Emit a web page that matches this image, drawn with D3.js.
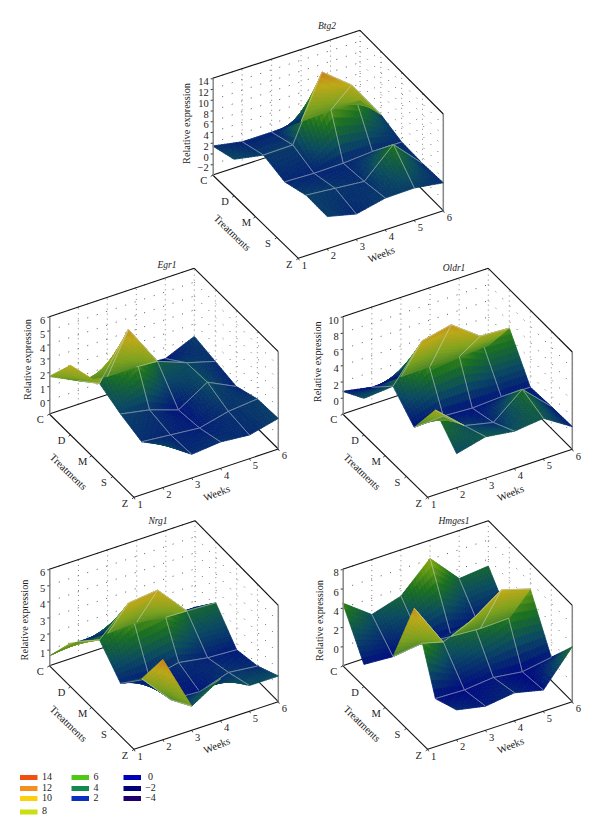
<!DOCTYPE html>
<html>
<head>
<meta charset="utf-8">
<script src="https://cdn.jsdelivr.net/npm/d3@7"></script>
<style>
  body { margin: 0; background: #fff; }
  text { font-family: "Liberation Serif", serif; fill: #222; }
</style>
</head>
<body>
<script>
var weeks = [1, 2, 3, 4, 5, 6];
var treatments = ["C", "D", "M", "S", "Z"];

// rows = treatments, columns = weeks, week 1 has no M/S/Z reading
var btg2Values = [
  [1.4, 0.4, 0.4, 0.6, 0.9, 0.9],
  [2.8, 1.8, 1.9, 13.7, 9.5, 2.2],
  [null, 0.7, 0.5, 0.6, 1.0, 1.0],
  [null, 2.1, 1.6, 1.1, 6.2, 0.9],
  [null, 2.0, 0.7, 1.9, 2.0, 1.2],
];
var egr1Values = [
  [1.7, 0.7, 0.3, 0.3, 0.2, 1.1],
  [4.0, 2.0, 5.2, 2.2, 1.4, 0.8],
  [null, 1.3, 0.9, 0.2, 1.5, 0.5],
  [null, 0.8, 0.6, 0.4, 0.9, 1.1],
  [null, 2.1, 0.7, 0.9, 0.7, 1.2],
];
var oldr1Values = [
  [0.8, 0.1, 0.2, 0.3, 0.3, 0.5],
  [2.5, 2.8, 7.2, 8.0, 5.4, 5.2],
  [null, 0.3, 0.5, 0.3, 0.5, 0.5],
  [null, 5.0, 1.9, 1.1, 4.0, 0.7],
  [null, 2.2, 3.1, 2.6, 3.0, 0.8],
];
var nrg1Values = [
  [0.6, 0.9, 0.8, 0.9, 0.6, 0.6],
  [2.7, 2.3, 4.0, 4.2, 2.3, 2.2],
  [null, 0.9, 0.6, 1.0, 0.7, 0.6],
  [null, 2.5, 0.6, 0.5, 1.1, 0.9],
  [null, 5.0, 1.5, 2.6, 1.6, 1.6],
];
var hmges1Values = [
  [4.5, 2.3, 3.2, 6.1, 3.0, 3.3],
  [0.3, 0.1, 0.5, 0.2, 0.0, 0.1],
  [null, 7.3, 2.8, 4.1, 6.2, 5.3],
  [null, 0.1, 0.0, 0.3, -0.1, 0.4],
  [null, 1.1, 0.5, 0.9, 0.2, 3.7],
];

var btg2Ticks = [-2, 0, 2, 4, 6, 8, 10, 12, 14];
var egr1Ticks = [0, 1, 2, 3, 4, 5, 6];
var oldr1Ticks = [0, 2, 4, 6, 8, 10];
var nrg1Ticks = [1, 2, 3, 4, 5, 6];
var hmges1Ticks = [0, 2, 4, 6, 8];

var legendValues = [14, 12, 10, 8, 6, 4, 2, 0, -2, -4];
var legendColors = ["#f0500f", "#f59020", "#fcd010", "#c8e010", "#50c81a", "#108a50", "#0a30c0", "#0000b8", "#00007a", "#20006a"];

// surface colour ramp, every panel stretches it over its own range
var rampStops = [0, 0.25, 0.45, 0.65, 0.85, 1];
var rampColors = ["#000a80", "#0a4a60", "#1a7020", "#70a010", "#c0a808", "#d8660c"];

var panels = [
  { name: "Btg2", values: btg2Values, ticks: btg2Ticks, zMin: -4, zMax: 14, colorMin: -1, colorMax: 14.5,
    left: [212.7, 175], front: [298.3, 258.3], right: [443.3, 210.7], back: [360, 127], height: 96.7,
    title: [327, 29], zTitle: [188, 123.5] },
  { name: "Egr1", values: egr1Values, ticks: egr1Ticks, zMin: -1, zMax: 6, colorMin: 0, colorMax: 6,
    left: [49.3, 414], front: [134, 497.3], right: [278.3, 449], back: [194.3, 365.6], height: 97.3,
    title: [167, 268], zTitle: [29, 359.5] },
  { name: "Oldr1", values: oldr1Values, ticks: oldr1Ticks, zMin: -2, zMax: 10, colorMin: 0, colorMax: 9.4,
    left: [342.7, 414], front: [427.7, 497.3], right: [572.3, 449.3], back: [488.3, 365.6], height: 97.3,
    title: [454, 271], zTitle: [319, 361.7] },
  { name: "Nrg1", values: nrg1Values, ticks: nrg1Ticks, zMin: 0, zMax: 6, colorMin: 0.3, colorMax: 5.3,
    left: [49.3, 665.7], front: [134, 749.3], right: [278.3, 701.7], back: [195, 617.1], height: 96.4,
    title: [158, 524], zTitle: [25.7, 620] },
  { name: "Hmges1", values: hmges1Values, ticks: hmges1Ticks, zMin: -2, zMax: 8, colorMin: 0, colorMax: 8.4,
    left: [342.7, 665.7], front: [427.7, 749.3], right: [572.3, 701.7], back: [488.3, 617.1], height: 96.4,
    title: [454, 524], zTitle: [320.7, 620.5] },
];

var svg = d3
  .select("body")
  .append("svg")
  .attr("width", 600)
  .attr("height", 838);

var ramp = d3.scaleLinear().domain(rampStops).range(rampColors).clamp(true);
var subSteps = 10;

panels.forEach(drawPanel);
drawLegend();

function drawPanel(panel) {
  var g = svg.append("g").attr("class", "panel");

  var weekScale = d3.scaleLinear().domain([d3.min(weeks), d3.max(weeks)]).range([0, 1]);
  var treatmentScale = d3.scaleLinear().domain([0, treatments.length - 1]).range([0, 1]);
  var zScale = d3
    .scaleLinear()
    .domain([panel.zMin, panel.zMax])
    .range([panel.left[1], panel.left[1] - panel.height]);
  var colorNorm = d3.scaleLinear().domain([panel.colorMin, panel.colorMax]).range([0, 1]);

  // floor point for a (fractional) week and treatment index
  function floor(week, treatment) {
    var u = weekScale(week),
      v = treatmentScale(treatment);
    var x0 = panel.left[0] + (panel.front[0] - panel.left[0]) * v,
      y0 = panel.left[1] + (panel.front[1] - panel.left[1]) * v,
      x1 = panel.back[0] + (panel.right[0] - panel.back[0]) * v,
      y1 = panel.back[1] + (panel.right[1] - panel.back[1]) * v;
    return [x0 + (x1 - x0) * u, y0 + (y1 - y0) * u];
  }

  function project(week, treatment, value) {
    var p = floor(week, treatment);
    return [p[0], p[1] + zScale(value) - zScale(panel.zMin)];
  }

  var weekFirst = d3.min(weeks),
    weekLast = d3.max(weeks),
    lastT = treatments.length - 1;

  drawWalls();
  drawSurface();
  drawAxes();

  function addLine(a, b, stroke, width, dash) {
    g.append("line")
      .attr("x1", a[0])
      .attr("y1", a[1])
      .attr("x2", b[0])
      .attr("y2", b[1])
      .attr("stroke", stroke)
      .attr("stroke-width", width)
      .attr("stroke-dasharray", dash || null);
  }

  function drawWalls() {
    // dotted grid on the two back walls
    panel.ticks.forEach(function (t) {
      addLine(project(weekFirst, 0, t), project(weekLast, 0, t), "#555", 1, "1 9");
      addLine(project(weekLast, 0, t), project(weekLast, lastT, t), "#555", 1, "1 9");
    });
    weeks.slice(1).forEach(function (w) {
      addLine(project(w, 0, panel.zMin), project(w, 0, panel.zMax), "#777", 0.9, "1 4");
    });
    treatments.slice(1).forEach(function (d, i) {
      addLine(project(weekLast, i + 1, panel.zMin), project(weekLast, i + 1, panel.zMax), "#777", 0.9, "1 4");
    });

    // floor outline and top edges
    addLine(panel.left, panel.front, "#111", 1.1);
    addLine(panel.front, panel.right, "#111", 1.1);
    addLine(panel.left, panel.back, "#111", 1.1);
    addLine(panel.back, panel.right, "#111", 1.1);
    addLine(project(weekFirst, 0, panel.zMax), project(weekLast, 0, panel.zMax), "#111", 1.1);
    addLine(project(weekLast, 0, panel.zMax), project(weekLast, lastT, panel.zMax), "#111", 1.1);
    addLine(panel.right, project(weekLast, lastT, panel.zMax), "#888", 1.5);
  }

  function value(weekIndex, t) {
    return panel.values[t][weekIndex];
  }

  function hasCell(j, k) {
    if (j < 0 || k < 0 || j >= weeks.length - 1 || k >= lastT) return false;
    return (
      value(j, k) !== null &&
      value(j, k + 1) !== null &&
      value(j + 1, k) !== null &&
      value(j + 1, k + 1) !== null
    );
  }

  // true when the sheet folds over and we look at its underside
  function isFlipped(j, k) {
    var a = project(weeks[j], k, value(j, k)),
      b = project(weeks[j], k + 1, value(j, k + 1)),
      c = project(weeks[j + 1], k + 1, value(j + 1, k + 1)),
      d = project(weeks[j + 1], k, value(j + 1, k));
    return d3.polygonArea([a, b, c, d]) < 0;
  }

  function drawSurface() {
    var cells = [];
    for (var j = weeks.length - 2; j >= 0; j--) {
      for (var k = 0; k < lastT; k++) {
        if (hasCell(j, k)) cells.push({ j: j, k: k, flipped: isFlipped(j, k) });
      }
    }
    // undersides go on top, that is how the original stacks them
    cells.filter((c) => !c.flipped).forEach(drawCell);
    cells.filter((c) => c.flipped).forEach(drawCell);
  }

  function drawCell(cell) {
    var j = cell.j,
      k = cell.k;
    var v00 = value(j, k),
      v01 = value(j, k + 1),
      v10 = value(j + 1, k),
      v11 = value(j + 1, k + 1);

    function height(s, t) {
      return (
        v00 * (1 - s) * (1 - t) + v10 * s * (1 - t) + v01 * (1 - s) * t + v11 * s * t
      );
    }
    function point(s, t) {
      return project(weeks[j] + s, k + t, height(s, t));
    }

    var cellGroup = g.append("g");
    var quads = [];
    for (var a = 0; a < subSteps; a++) {
      for (var b = 0; b < subSteps; b++) {
        quads.push([a / subSteps, b / subSteps]);
      }
    }
    var step = 1 / subSteps;

    cellGroup
      .selectAll("path")
      .data(quads)
      .enter()
      .append("path")
      .attr("d", function (q) {
        return (
          "M" + point(q[0], q[1]) +
          "L" + point(q[0] + step, q[1]) +
          "L" + point(q[0] + step, q[1] + step) +
          "L" + point(q[0], q[1] + step) + "Z"
        );
      })
      .each(function (q) {
        var t = colorNorm(height(q[0] + step / 2, q[1] + step / 2));
        var c = ramp(t);
        // underside runs lighter, low parts go olive rather than navy
        if (cell.flipped) c = d3.interpolateRgb(ramp(t * 0.5 + 0.5), "#b4ac60")(0.2);
        d3.select(this).attr("fill", c).attr("stroke", c).attr("stroke-width", 0.8);
      });

    // mesh lines only on edges shared with a neighbour
    var edges = [];
    if (hasCell(j - 1, k)) edges.push([[0, 0], [0, 1]]);
    if (hasCell(j + 1, k)) edges.push([[1, 0], [1, 1]]);
    if (hasCell(j, k - 1)) edges.push([[0, 0], [1, 0]]);
    if (hasCell(j, k + 1)) edges.push([[0, 1], [1, 1]]);
    edges.forEach(function (e) {
      var p = point(e[0][0], e[0][1]),
        q = point(e[1][0], e[1][1]);
      cellGroup
        .append("line")
        .attr("x1", p[0])
        .attr("y1", p[1])
        .attr("x2", q[0])
        .attr("y2", q[1])
        .attr("stroke", "#d0d8d0")
        .attr("stroke-width", 0.7)
        .attr("stroke-opacity", 0.7);
    });
  }

  function drawAxes() {
    var zAxis = d3
      .axisLeft(zScale)
      .tickValues(panel.ticks)
      .tickSizeInner(2)
      .tickSizeOuter(0)
      .tickPadding(2)
      .tickFormat((d) => (d < 0 ? "\u2212" + Math.abs(d) : d));

    var axis = g
      .append("g")
      .attr("class", "axis")
      .attr("transform", "translate(" + panel.left[0] + ",0)")
      .call(zAxis);
    axis.select(".domain").attr("stroke", "#888").attr("stroke-width", 1.5);
    axis.selectAll(".tick line").attr("stroke", "#333");
    axis
      .selectAll(".tick text")
      .attr("dy", "0.62em")
      .style("font-family", '"Liberation Serif", serif')
      .style("font-size", "10.5px")
      .style("fill", "#222");

    g.append("text")
      .attr("transform", "translate(" + panel.zTitle[0] + "," + panel.zTitle[1] + ") rotate(-90)")
      .attr("text-anchor", "middle")
      .attr("dominant-baseline", "middle")
      .style("font-size", "10.3px")
      .text("Relative expression");

    treatments.forEach(function (d, i) {
      var p = floor(weekFirst, i);
      addLine(p, [p[0] - 2, p[1] + 1.5], "#111", 0.8);
      g.append("text")
        .attr("x", p[0] - 9)
        .attr("y", p[1] + 7)
        .attr("text-anchor", "middle")
        .attr("dominant-baseline", "middle")
        .style("font-size", "10.5px")
        .text(d);
    });

    weeks.forEach(function (d) {
      var p = floor(d, lastT);
      addLine(p, [p[0] + 1, p[1] + 2], "#111", 0.8);
      g.append("text")
        .attr("x", p[0] + 6)
        .attr("y", p[1] + 8)
        .attr("text-anchor", "middle")
        .attr("dominant-baseline", "middle")
        .style("font-size", "10.5px")
        .text(d);
    });

    var treatMid = floor(weekFirst, lastT / 2);
    g.append("text")
      .attr("transform", "translate(" + (treatMid[0] - 24) + "," + (treatMid[1] + 17) + ") rotate(44)")
      .attr("text-anchor", "middle")
      .attr("dominant-baseline", "middle")
      .style("font-size", "10.5px")
      .text("Treatments");

    var weekMid = floor((weekFirst + weekLast) / 2, lastT);
    g.append("text")
      .attr("transform", "translate(" + (weekMid[0] + 11) + "," + (weekMid[1] + 21) + ") rotate(-22)")
      .attr("text-anchor", "middle")
      .attr("dominant-baseline", "middle")
      .style("font-size", "10.5px")
      .text("Weeks");

    g.append("text")
      .attr("x", panel.title[0])
      .attr("y", panel.title[1])
      .attr("text-anchor", "middle")
      .style("font-size", "9.5px")
      .style("font-style", "italic")
      .text(panel.name);
  }
}

function drawLegend() {
  var legendX = [20, 71.5, 123.5];
  var legendY = [777.5, 788.5, 798.5, 812];
  var columns = [
    legendValues.slice(0, 4),
    legendValues.slice(4, 7),
    legendValues.slice(7),
  ];
  var legend = svg.append("g").attr("class", "legend");

  columns.forEach(function (col, c) {
    col.forEach(function (d, r) {
      legend
        .append("rect")
        .attr("x", legendX[c])
        .attr("y", legendY[r] - 2.5)
        .attr("width", 17.5)
        .attr("height", 5)
        .attr("fill", legendColors[legendValues.indexOf(d)]);
      legend
        .append("text")
        .attr("x", c == 2 ? legendX[c] + 27 : legendX[c] + 22)
        .attr("y", legendY[r])
        .attr("text-anchor", c == 2 ? "middle" : "start")
        .attr("dominant-baseline", "middle")
        .style("font-size", "10px")
        .text(d < 0 ? "\u2212" + Math.abs(d) : d);
    });
  });
}
</script>
</body>
</html>
